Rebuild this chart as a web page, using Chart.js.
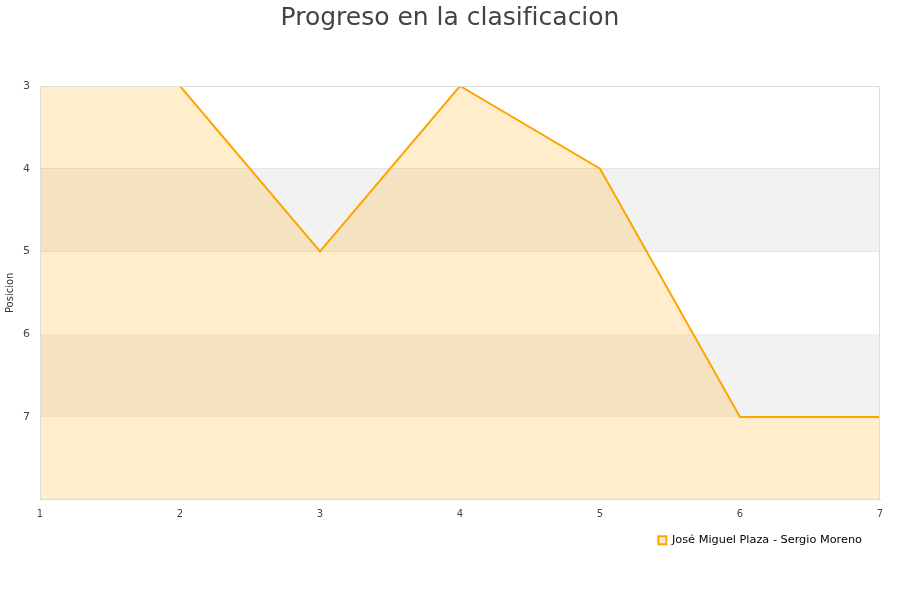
<!DOCTYPE html>
<html lang="es">
<head>
    <meta charset="UTF-8">
    <title>Progreso en la clasificacion</title>
    <script src="https://cdn.jsdelivr.net/npm/chart.js"></script>
    <style>
        html, body { margin: 0; padding: 0; background: #fff; }
        #wrap { width: 900px; height: 600px; }
    </style>
</head>
<body>
<div id="wrap"><canvas id="chart"></canvas></div>
<script>
    // Data
    const jornadas = ['1', '2', '3', '4', '5', '6', '7'];
    const posiciones = [3, 3, 5, 3, 4, 7, 7];
    const serieNombre = 'José Miguel Plaza - Sergio Moreno';
    const yTicks = [3, 4, 5, 6, 7];
    const bandas = [[4, 5], [6, 7]];

    // Grey bands and plot frame
    const bandPlugin = {
        id: 'bands',
        afterLayout(chart) {
            // nudge the legend a bit left of the plot's right edge
            if (chart.legend) {
                chart.legend.left -= 25;
                chart.legend.right -= 25;
            }
        },
        beforeDatasetsDraw(chart) {
            const { ctx, chartArea, scales } = chart;
            ctx.save();
            ctx.fillStyle = '#f2f2f2';
            bandas.forEach(([a, b]) => {
                const y1 = scales.y.getPixelForValue(a);
                const y2 = scales.y.getPixelForValue(b);
                ctx.fillRect(chartArea.left, y1, chartArea.right - chartArea.left, y2 - y1);
            });
            ctx.restore();
        },
        afterDraw(chart) {
            const { ctx, chartArea } = chart;
            ctx.save();
            ctx.strokeStyle = '#dddddd';
            ctx.lineWidth = 1;
            ctx.strokeRect(chartArea.left + 0.5, chartArea.top + 0.5,
                chartArea.right - chartArea.left - 1, chartArea.bottom - chartArea.top - 1);
            ctx.restore();
        }
    };

    new Chart(document.getElementById('chart'), {
        type: 'line',
        data: {
            labels: jornadas,
            datasets: [{
                label: serieNombre,
                data: posiciones,
                borderColor: '#FFA500',
                backgroundColor: 'rgba(255, 165, 0, 0.2)',
                borderWidth: 2,
                pointRadius: 0,
                fill: 'start',
                tension: 0
            }]
        },
        options: {
            responsive: true,
            maintainAspectRatio: false,
            animation: false,
            layout: { padding: { left: 0, right: 0, top: 3, bottom: 44 } },
            plugins: {
                title: {
                    display: true,
                    text: 'Progreso en la clasificacion',
                    color: '#444',
                    font: { family: 'DejaVu Sans', size: 25, weight: 'normal' },
                    padding: { top: 0, bottom: 53 }
                },
                legend: {
                    position: 'bottom',
                    align: 'end',
                    labels: {
                        color: '#000',
                        font: { family: 'DejaVu Sans', size: 11.3 },
                        boxWidth: 8,
                        boxHeight: 8,
                        padding: 13
                    }
                },
                tooltip: { enabled: false }
            },
            scales: {
                x: {
                    type: 'category',
                    offset: false,
                    grid: { display: false },
                    border: { color: '#dddddd' },
                    ticks: {
                        color: '#444',
                        padding: 1,
                        font: { family: 'DejaVu Sans', size: 10 },
                        maxRotation: 0
                    }
                },
                y: {
                    reverse: true,
                    min: 3,
                    max: 8,
                    afterBuildTicks(axis) {
                        axis.ticks = yTicks.concat([8]).map(v => ({ value: v }));
                    },
                    afterFit(axis) { axis.width = 40; },
                    title: {
                        display: true,
                        text: 'Posicion',
                        color: '#333',
                        font: { family: 'DejaVu Sans', size: 10 },
                        padding: { top: 4, bottom: 0 }
                    },
                    grid: { color: '#dddddd', drawTicks: false },
                    border: { color: '#dddddd' },
                    ticks: {
                        color: '#444',
                        padding: 10,
                        font: { family: 'DejaVu Sans', size: 11 },
                        callback: v => (yTicks.includes(v) ? v : '')
                    }
                },
                // empty right axis only to keep a 20px margin at the right
                y2: {
                    position: 'right',
                    display: true,
                    grid: { display: false },
                    border: { display: false },
                    ticks: { display: false },
                    afterFit(axis) { axis.width = 20; }
                }
            }
        },
        plugins: [bandPlugin]
    });
</script>
</body>
</html>
